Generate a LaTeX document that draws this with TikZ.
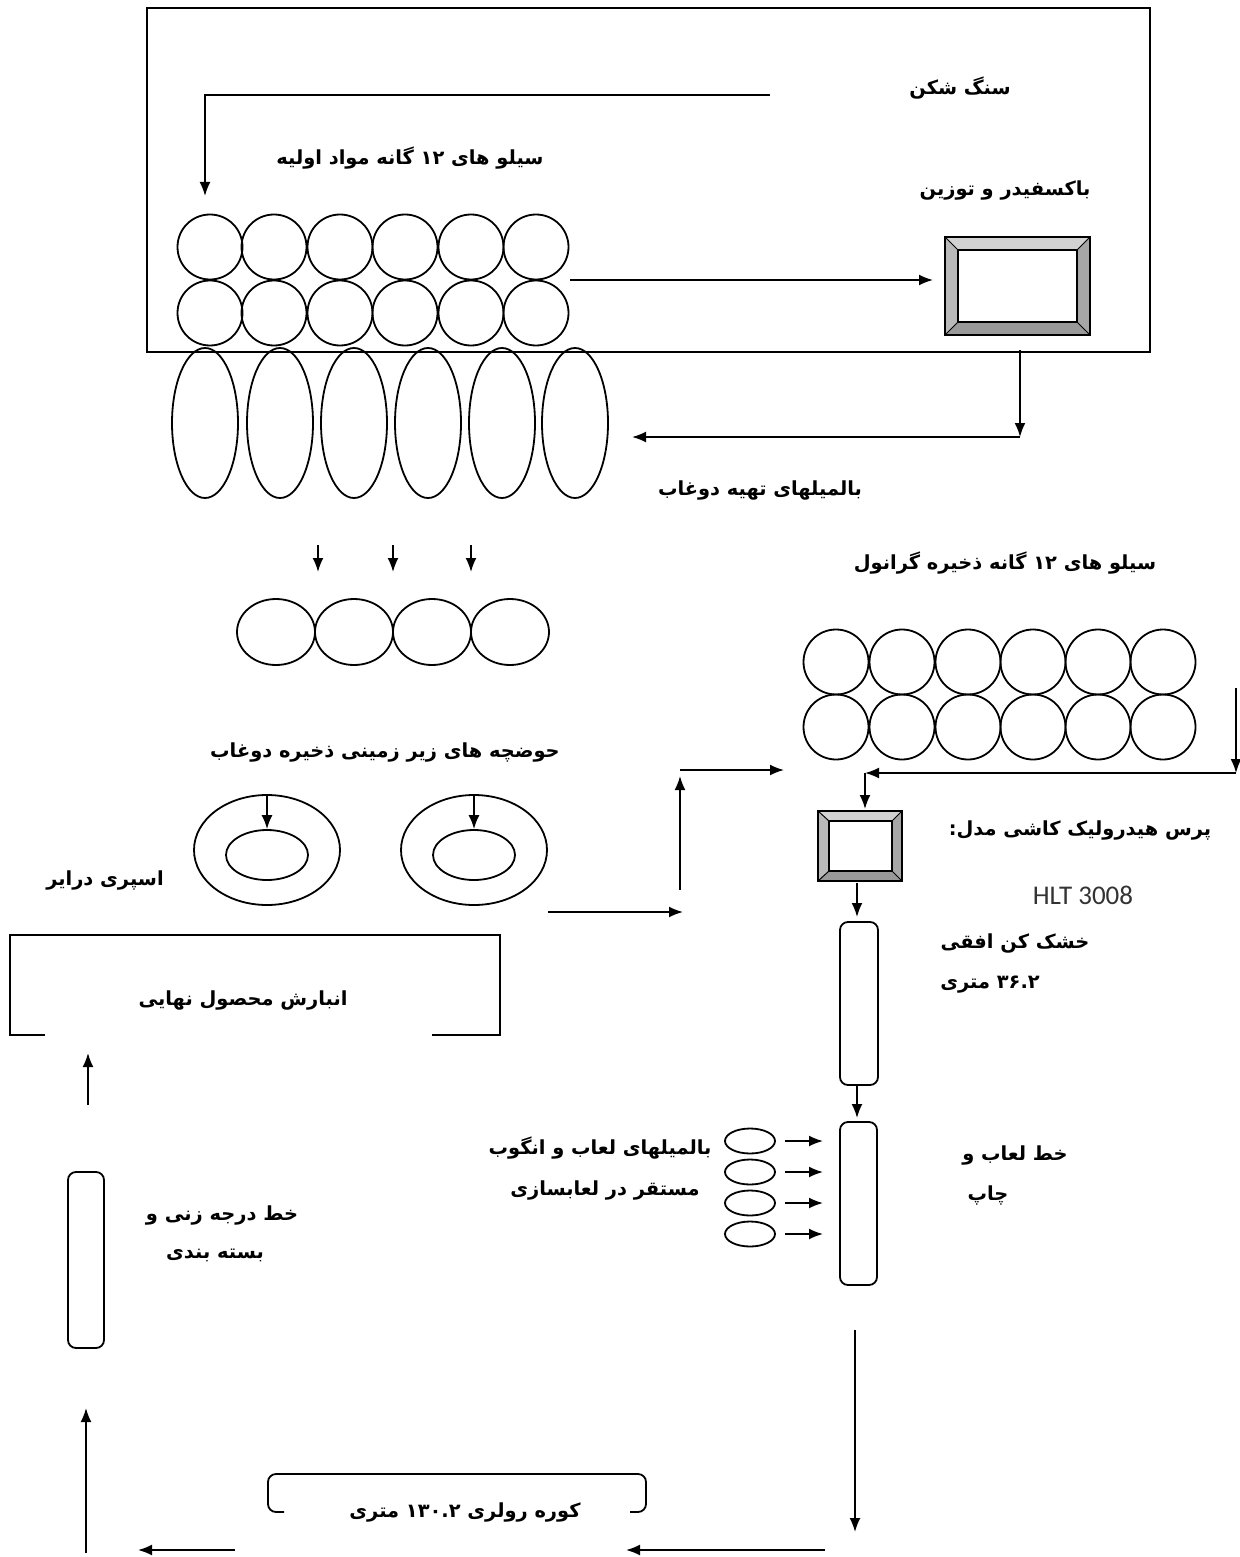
\documentclass[tikz,border=0pt]{standalone}
\usepackage{fontspec}
\usetikzlibrary{arrows.meta,shapes.geometric}
\TeXXeTstate=1
\newfontfamily\fa[Script=Arabic]{DejaVu Sans}
\newfontfamily\lat{Carlito}
\tikzset{
  lbl/.style={font=\fa\bfseries\fontsize{9.7}{12}\selectfont, inner sep=1pt},
  arr/.style={-{Latex[length=7pt,width=5.5pt]}, line width=0.9pt},
  ln/.style={line width=0.9pt},
  silo/.style={circle, draw, line width=0.9pt, minimum size=32.5pt, inner sep=0pt},
  tallmill/.style={ellipse, draw, line width=0.9pt, minimum width=33pt, minimum height=75pt, inner sep=0pt},
  pool/.style={ellipse, draw, line width=0.9pt, minimum width=39pt, minimum height=33pt, inner sep=0pt},
  glazemill/.style={ellipse, draw, line width=0.9pt, minimum width=25pt, minimum height=12.5pt, inner sep=0pt},
  longbox/.style={draw, line width=0.9pt, rounded corners=4pt, inner sep=0pt},
}
\begin{document}
\begin{tikzpicture}[x=0.5pt,y=-0.5pt]
\useasboundingbox (0,0) rectangle (1240,1557);
\fill[white] (0,0) rectangle (1240,1557);

% ---------- top frame ----------
\draw[ln] (147,8) rectangle (1150,352);
\node[lbl] (crusher) at (960,88) {\beginR سنگ شکن\endR};
\node[lbl] (rawsilotxt) at (410,158) {\beginR سیلو های ۱۲ گانه مواد اولیه\endR};
\node[lbl] (feedertxt) at (1005,190) {\beginR باکسفیدر و توزین\endR};

\coordinate (c1s) at (770,95);
\coordinate (c1m) at (205,95);
\coordinate (c1e) at (205,196);
\draw[arr] (c1s) -- (c1m) -- (c1e);

% raw silos 2x6
\foreach \i/\x in {1/210,2/274,3/340,4/405,5/471,6/536}{
  \node[silo] (rs1-\i) at (\x,247) {};
  \node[silo] (rs2-\i) at (\x,313) {};
}
% box feeder (bevelled)
\coordinate (bfA) at (945,237); \coordinate (bfB) at (1090,237);
\coordinate (bfC) at (1090,335); \coordinate (bfD) at (945,335);
\coordinate (bfa) at (958,250); \coordinate (bfb) at (1077,250);
\coordinate (bfc) at (1077,322); \coordinate (bfd) at (958,322);
\fill[gray!35] (bfA) -- (bfB) -- (bfb) -- (bfa) -- cycle;
\fill[gray!55] (bfA) -- (bfa) -- (bfd) -- (bfD) -- cycle;
\fill[gray!70] (bfB) -- (bfC) -- (bfc) -- (bfb) -- cycle;
\fill[gray!80] (bfD) -- (bfd) -- (bfc) -- (bfC) -- cycle;
\draw[ln] (bfA) rectangle (bfC);
\draw[line width=0.6pt] (bfa) rectangle (bfc);
\draw[line width=0.5pt] (bfA)--(bfa) (bfB)--(bfb) (bfC)--(bfc) (bfD)--(bfd);
\coordinate (c2s) at (570,280);
\coordinate (c2e) at (933,280);
\draw[arr] (c2s) -- (c2e);

% ---------- ball mills ----------
\coordinate (c3s) at (1020,350);
\coordinate (c3m) at (1020,437);
\coordinate (c3e) at (632,437);
\draw[arr] (c3s) -- (c3m);
\draw[arr] (c3m) -- (c3e);
\foreach \i/\x in {1/205,2/280,3/354,4/428,5/502,6/575}{
  \node[tallmill] (bm\i) at (\x,423) {};
}
\node[lbl] (bmtxt) at (760,490) {\beginR بالمیلهای تهیه دوغاب\endR};

\foreach \i/\x in {1/318,2/393,3/471}{
  \coordinate (d\i s) at (\x,545);
  \coordinate (d\i e) at (\x,572);
  \draw[arr] (d\i s) -- (d\i e);
}
\foreach \i/\x in {1/276,2/354,3/432,4/510}{
  \node[pool] (tk\i) at (\x,632) {};
}

% ---------- granule silos ----------
\node[lbl] (gransilotxt) at (1005,563) {\beginR سیلو های ۱۲ گانه ذخیره گرانول\endR};
\foreach \i/\x in {1/836,2/902,3/968,4/1033,5/1098,6/1163}{
  \node[silo] (gs1-\i) at (\x,662) {};
  \node[silo] (gs2-\i) at (\x,727) {};
}
\coordinate (c4s) at (1236,688);
\coordinate (c4m) at (1236,773);
\coordinate (c4e) at (865,773);
\coordinate (c4f) at (865,809);
\draw[arr] (c4s) -- (c4m);
\draw[arr] (c4m) -- (c4e);
\draw[arr] (c4e) -- (c4f);

% ---------- slip pools / spray dryer ----------
\node[lbl] (pooltxt) at (385,752) {\beginR حوضچه های زیر زمینی ذخیره دوغاب\endR};
\foreach \i/\x in {1/267,2/474}{
  \node[ellipse, draw, ln, minimum width=73pt, minimum height=55pt, inner sep=0pt] (ring\i) at (\x,850) {};
  \node[ellipse, draw, ln, minimum width=41pt, minimum height=25pt, inner sep=0pt] (core\i) at (\x,855) {};
  \coordinate (r\i s) at (\x,796);
  \draw[arr] (r\i s) -- (core\i.north);
}
\node[lbl] (spraytxt) at (105,880) {\beginR اسپری درایر\endR};

\coordinate (c5s) at (548,912);
\coordinate (c5e) at (683,912);
\draw[arr] (c5s) -- (c5e);
\coordinate (c6s) at (680,890);
\coordinate (c6e) at (680,776);
\draw[arr] (c6s) -- (c6e);
\coordinate (c7s) at (680,770);
\coordinate (c7e) at (784,770);
\draw[arr] (c7s) -- (c7e);

% ---------- press ----------
\coordinate (pA) at (818,811); \coordinate (pB) at (902,811);
\coordinate (pC) at (902,881); \coordinate (pD) at (818,881);
\coordinate (pa) at (829,821); \coordinate (pb) at (892,821);
\coordinate (pc) at (892,871); \coordinate (pd) at (829,871);
\fill[gray!35] (pA) -- (pB) -- (pb) -- (pa) -- cycle;
\fill[gray!55] (pA) -- (pa) -- (pd) -- (pD) -- cycle;
\fill[gray!70] (pB) -- (pC) -- (pc) -- (pb) -- cycle;
\fill[gray!80] (pD) -- (pd) -- (pc) -- (pC) -- cycle;
\draw[ln] (pA) rectangle (pC);
\draw[line width=0.6pt] (pa) rectangle (pc);
\draw[line width=0.5pt] (pA)--(pa) (pB)--(pb) (pC)--(pc) (pD)--(pd);
\node[lbl] (presstxt) at (1080,830) {\beginR پرس هیدرولیک کاشی مدل:\endR};
\node[font=\lat\fontsize{13.5}{15}\selectfont, inner sep=1pt, text=black!80] (model) at (1083,895) {HLT 3008};

% ---------- dryer ----------
\coordinate (c8s) at (857,883);
\coordinate (c8e) at (857,917);
\draw[arr] (c8s) -- (c8e);
\draw[longbox] (840,922) rectangle (878,1085);
\node[lbl] (dryertxt) at (1015,943) {\beginR خشک کن افقی\endR};
\node[lbl] (dryerlen) at (990,985) {\beginR \beginL۳۶.۲\endL{} متری\endR};
\coordinate (c9s) at (857,1085);
\coordinate (c9e) at (857,1118);
\draw[arr] (c9s) -- (c9e);

% ---------- glaze line ----------
\draw[longbox] (840,1122) rectangle (877,1285);
\node[lbl] (glazetxt1) at (1015,1155) {\beginR خط لعاب و\endR};
\node[lbl] (glazetxt2) at (988,1195) {\beginR چاپ\endR};
\foreach \i/\y in {1/1141,2/1172,3/1203,4/1234}{
  \node[glazemill] (gm\i) at (750,\y) {};
  \coordinate (g\i s) at (785,\y);
  \coordinate (g\i e) at (823,\y);
  \draw[arr] (g\i s) -- (g\i e);
}
\node[lbl] (gmtxt1) at (600,1148) {\beginR بالمیلهای لعاب و انگوب\endR};
\node[lbl] (gmtxt2) at (605,1190) {\beginR مستقر در لعابسازی\endR};

% ---------- kiln ----------
\coordinate (c10s) at (855,1330);
\coordinate (c10e) at (855,1532);
\draw[arr] (c10s) -- (c10e);
\coordinate (c11s) at (825,1550);
\coordinate (c11e) at (626,1550);
\draw[arr] (c11s) -- (c11e);
\draw[ln, rounded corners=4pt] (284,1512) -- (268,1512) -- (268,1474) -- (646,1474) -- (646,1512) -- (630,1512);
\node[lbl] (kilntxt) at (465,1512) {\beginR کوره رولری \beginL۱۳۰.۲\endL{} متری\endR};
\coordinate (c12s) at (235,1550);
\coordinate (c12e) at (138,1550);
\draw[arr] (c12s) -- (c12e);
\coordinate (c13s) at (86,1553);
\coordinate (c13e) at (86,1408);
\draw[arr] (c13s) -- (c13e);

% ---------- grading / packing ----------
\draw[longbox] (68,1172) rectangle (104,1348);
\node[lbl] (gradtxt1) at (222,1215) {\beginR خط درجه زنی و\endR};
\node[lbl] (gradtxt2) at (215,1255) {\beginR بسته بندی\endR};
\coordinate (c14s) at (88,1105);
\coordinate (c14e) at (88,1053);
\draw[arr] (c14s) -- (c14e);

% ---------- storage ----------
\draw[ln] (45,1035) -- (10,1035) -- (10,935) -- (500,935) -- (500,1035) -- (432,1035);
\node[lbl] (storetxt) at (243,1000) {\beginR انبارش محصول نهایی\endR};
\end{tikzpicture}
\end{document}
